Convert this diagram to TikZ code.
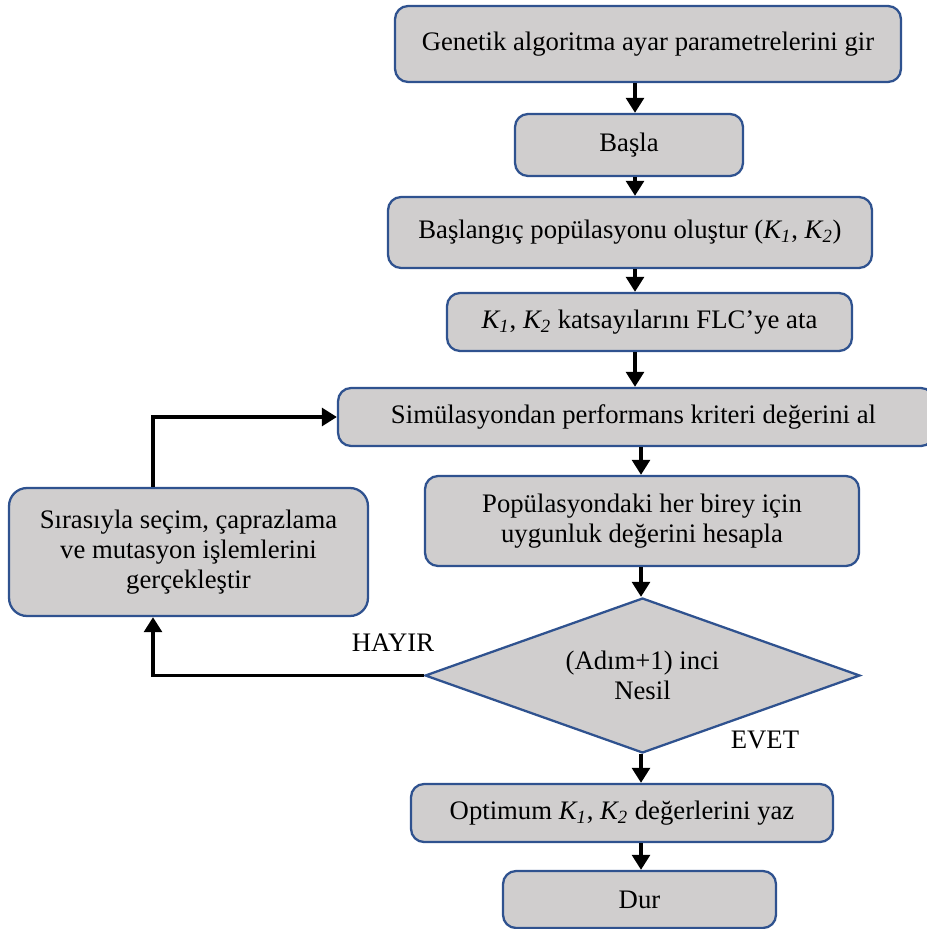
\documentclass[tikz,border=0pt]{standalone}
\usepackage{fontspec}
\setmainfont{Liberation Serif}
\usetikzlibrary{shapes.geometric,arrows.meta}
\definecolor{kutu}{RGB}{208,206,206}
\definecolor{cerceve}{RGB}{47,82,143}
\newcommand{\Kbir}{\textit{K\textsubscript{1}}}
\newcommand{\Kiki}{\textit{K\textsubscript{2}}}

\begin{document}
\begin{tikzpicture}[x=0.02cm,y=-0.02cm,
    islem/.style={draw=cerceve,fill=kutu,line width=1.3pt,rounded corners=0.26cm,
      inner sep=0pt,align=center,font=\fontsize{15.2}{17.2}\selectfont},
    karar/.style={diamond,aspect=2.8,draw=cerceve,fill=kutu,line width=1.3pt,inner sep=0pt,
      align=center,font=\fontsize{15.2}{17.2}\selectfont},
    ok/.style={-{Triangle[length=8.5pt,width=10pt]},line width=2.1pt},
    etiket/.style={font=\fontsize{15.2}{17.2}\selectfont}]
  \useasboundingbox (0,0) rectangle (926,929);
  % ana akis
  \node[islem,minimum width=10.12cm,minimum height=1.52cm] (gir) at (648,44) {Genetik algoritma ayar parametrelerini gir};
  \node[islem,minimum width=4.56cm,minimum height=1.24cm] (basla) at (629,145) {Başla};
  \node[islem,minimum width=9.68cm,minimum height=1.42cm] (pop) at (630,232.5) {Başlangıç popülasyonu oluştur (\Kbir, \Kiki)};
  \node[islem,minimum width=8.10cm,minimum height=1.16cm] (ata) at (649.5,322) {\Kbir, \Kiki{} katsayılarını FLC’ye ata};
  \node[islem,minimum width=11.92cm,minimum height=1.16cm] (sim) at (636,417) {\hspace*{-0.05cm}Simülasyondan performans kriteri değerini al\hspace*{0.05cm}};
  \node[islem,minimum width=8.68cm,minimum height=1.80cm] (uyg) at (642,521) {Popülasyondaki her birey için\\uygunluk değerini hesapla};
  \node[karar,minimum width=8.70cm,minimum height=3.10cm] (nesil) at (642.5,675.5) {(Adım+1) inci\\Nesil};
  \node[islem,minimum width=8.44cm,minimum height=1.16cm] (yaz) at (622,813) {Optimum \Kbir, \Kiki{} değerlerini yaz};
  \node[islem,minimum width=5.46cm,minimum height=1.14cm] (dur) at (639.5,899.5) {Dur};
  % geri besleme kutusu
  \node[islem,rounded corners=0.36cm,minimum width=7.18cm,minimum height=2.56cm] (gen) at (188.5,552) {Sırasıyla seçim, çaprazlama\\ve mutasyon işlemlerini\\gerçekleştir};
  % etiketler
  \node[etiket] (hayir) at (393,643) {HAYIR};
  \node[etiket] (evet) at (765,740) {EVET};
  % eksenler
  \coordinate (ust) at (635,0);
  \coordinate (alt) at (641,0);
  \coordinate (geri) at (153,0);
  % oklar
  \draw[ok] (gir.south -| ust) -- (basla.north -| ust);
  \draw[ok] (basla.south -| ust) -- (pop.north -| ust);
  \draw[ok] (pop.south -| ust) -- (ata.north -| ust);
  \draw[ok] (ata.south -| ust) -- (sim.north -| ust);
  \draw[ok] (sim.south -| alt) -- (uyg.north -| alt);
  \draw[ok] (uyg.south -| alt) -- (nesil.north -| alt);
  \draw[ok] (nesil.south -| alt) -- (yaz.north -| alt);
  \draw[ok] (yaz.south -| alt) -- (dur.north -| alt);
  \draw[ok] (nesil.west) -| (gen.south -| geri);
  \draw[ok] (gen.north -| geri) |- (sim.west);
\end{tikzpicture}
\end{document}
